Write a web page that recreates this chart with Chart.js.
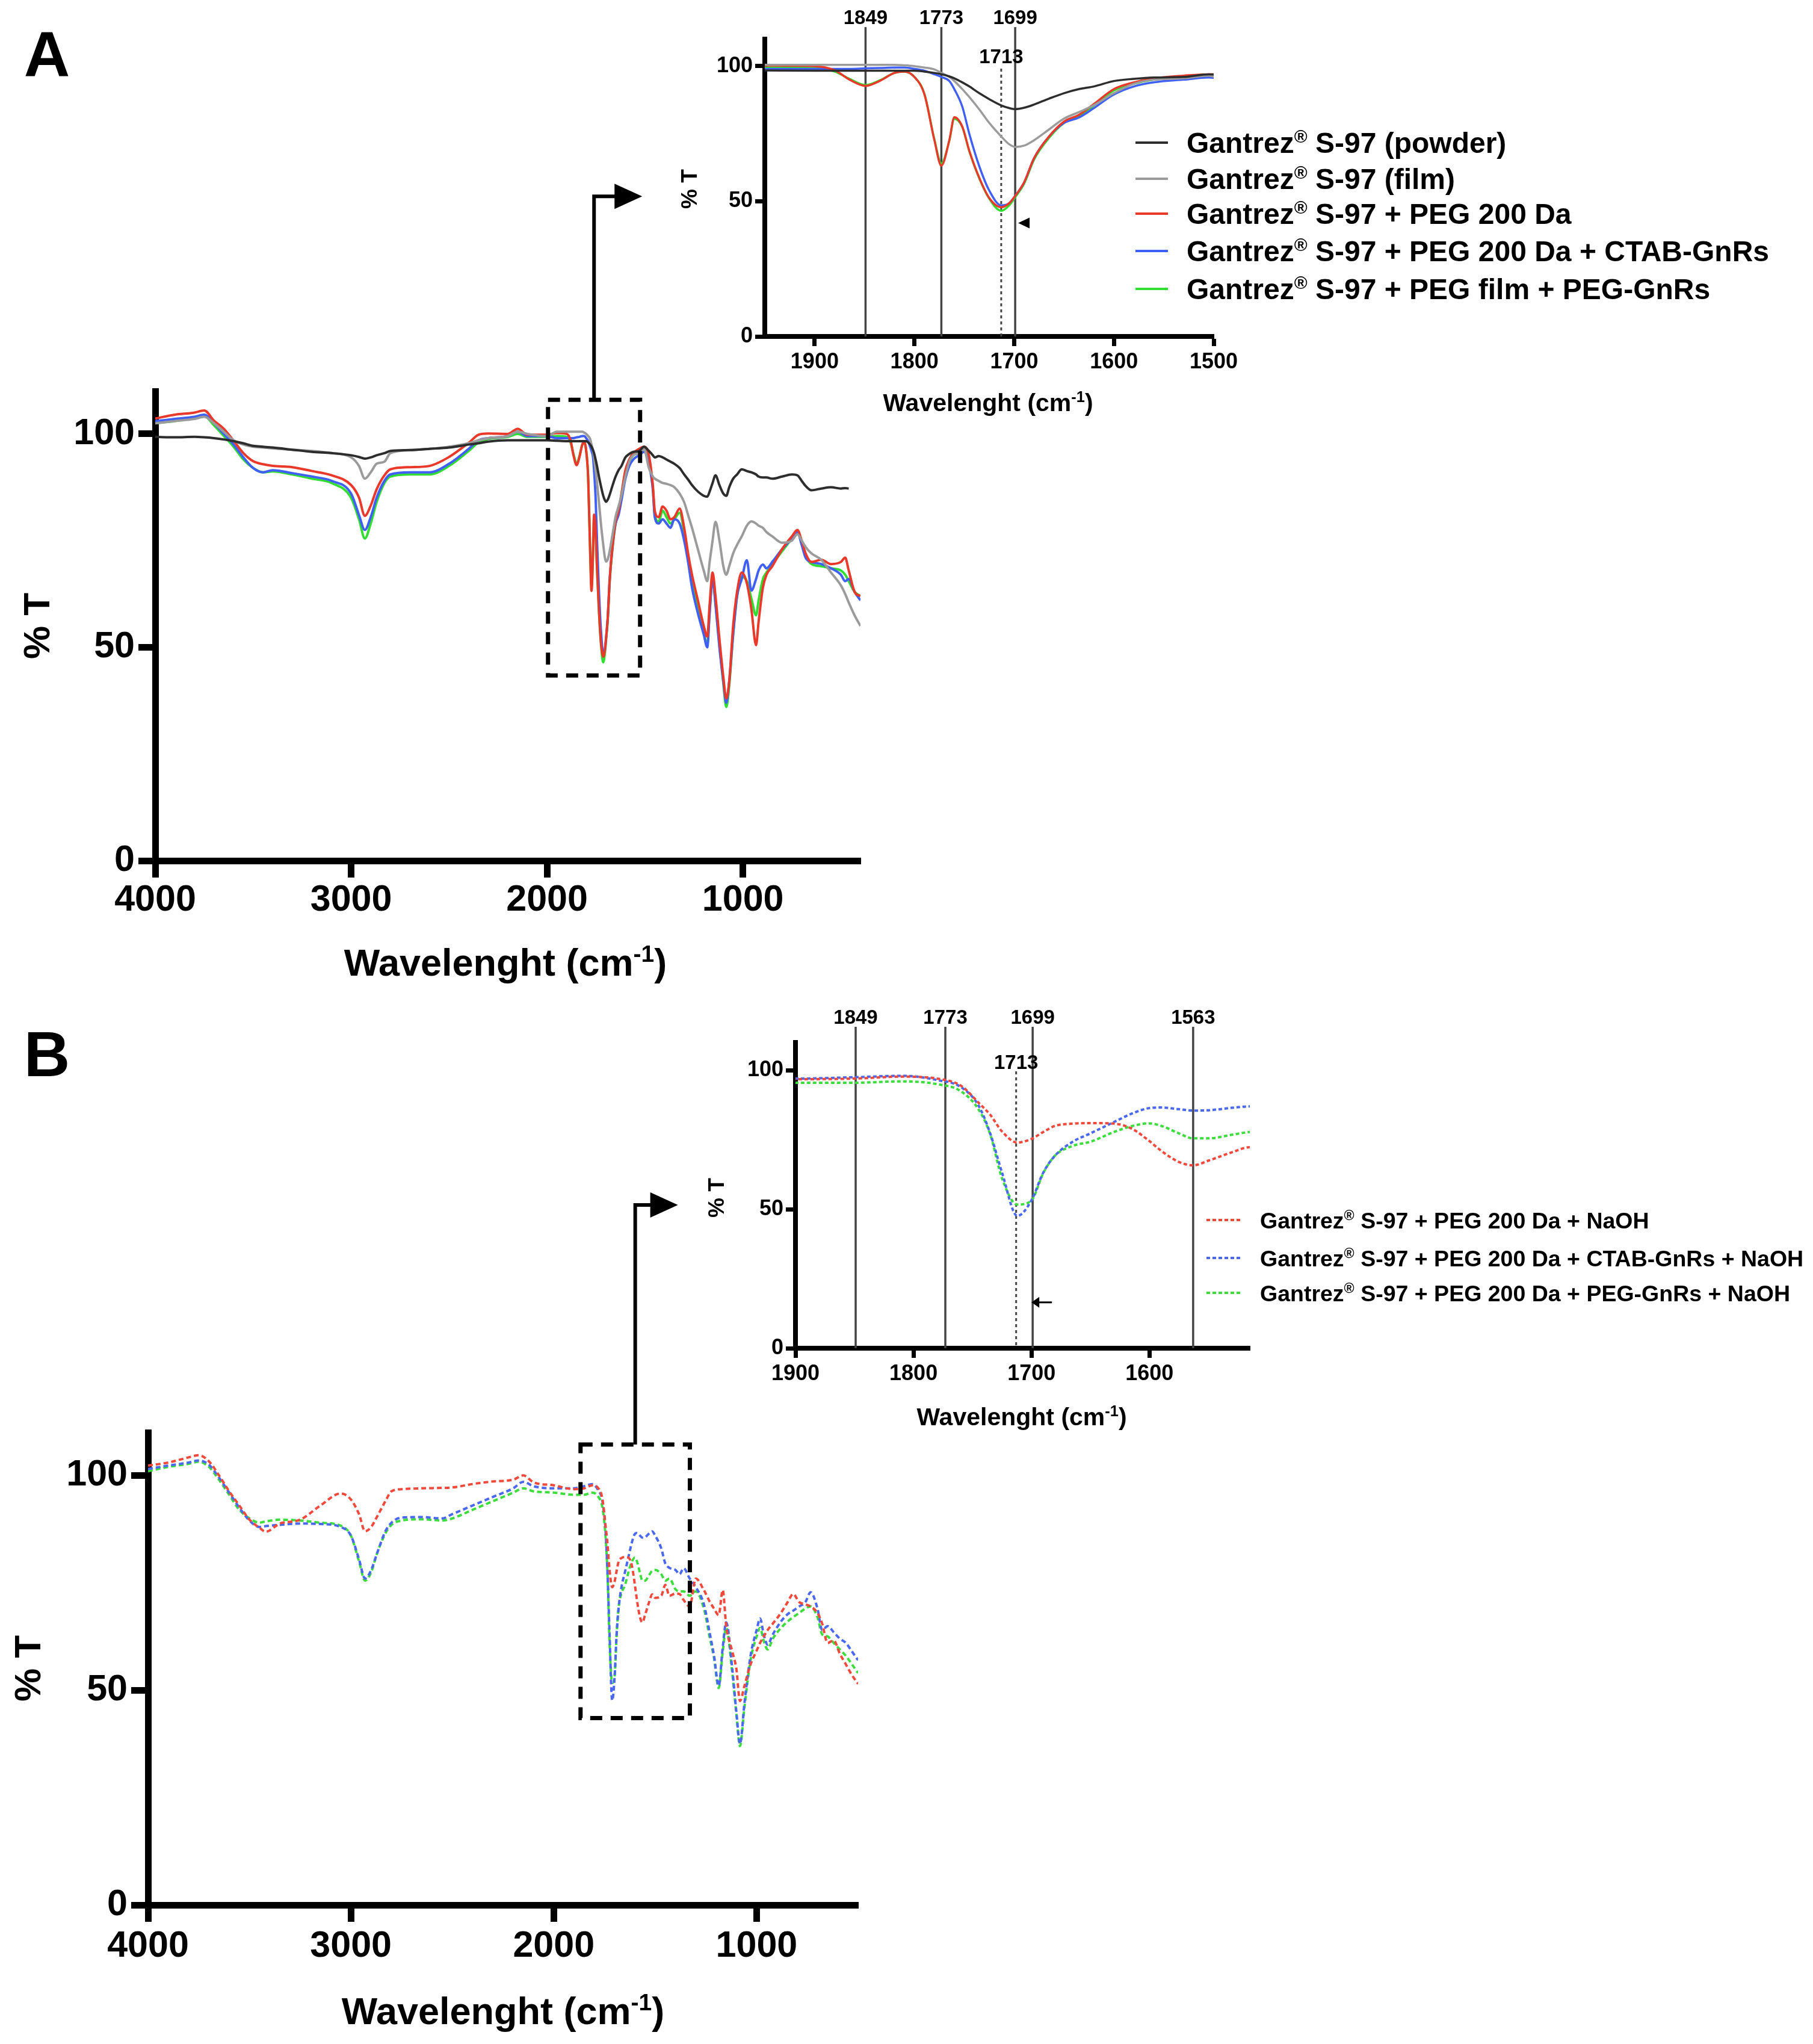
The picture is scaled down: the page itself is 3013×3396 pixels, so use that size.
<!DOCTYPE html>
<html><head><meta charset="utf-8">
<title>FTIR spectra</title>
<script src="https://cdn.jsdelivr.net/npm/chart.js@4.4.1/dist/chart.umd.min.js"></script>
<style>
html,body{margin:0;padding:0;background:#fff}
body{position:relative;width:3013px;height:3396px;overflow:hidden}
canvas{position:absolute;display:block}
</style></head>
<body>
<canvas id="mainA" width="1500" height="1750" style="left:0px;top:0px;width:1500px;height:1750px"></canvas>
<canvas id="insetA" width="1913" height="700" style="left:1100px;top:0px;width:1913px;height:700px"></canvas>
<canvas id="mainB" width="1500" height="1696" style="left:0px;top:1700px;width:1500px;height:1696px"></canvas>
<canvas id="insetB" width="1863" height="750" style="left:1150px;top:1650px;width:1863px;height:750px"></canvas>
<script>
// ---------- Panel A data ----------
const wavenumbersA = [4000,3900,3800,3750,3700,3650,3600,3550,3500,3450,
 3400,3300,3200,3100,3000,2960,2930,2900,2870,2830,
 2800,2700,2600,2500,2400,2350,2300,2200,2150,2100,
 2000,1950,1900,1880,1865,1849,1835,1820,1810,1800,
 1790,1780,1773,1765,1760,1752,1745,1735,1725,1713,
 1705,1699,1690,1680,1665,1650,1635,1620,1600,1580,
 1560,1530,1505,1480,1460,1450,1430,1410,1390,1370,
 1350,1323,1300,1280,1260,1230,1200,1182,1170,1155,
 1140,1120,1100,1085,1070,1050,1030,1006,980,957,
 933,920,898,880,850,800,750,722,700,680,
 650,600,550,500,478,460,430,400];
const powderA = [99.3,99.2,99.3,99.2,99,98.7,98.3,97.8,97.2,97,
 96.8,96.3,95.8,95.5,95,94.6,94.2,94.5,95,95.5,
 96,96.2,96.5,96.8,97.5,97.8,98.2,98.5,98.5,98.5,
 98.5,98.4,98.3,98.3,98.3,98.3,98.3,98.3,98.3,98.3,
 98,97.5,97,96.2,95.5,94,92.5,90,87.8,85.5,
 84.5,84.1,84.6,85.8,88,90,91.5,92.5,94.5,95.3,
 95.8,96,97,96,95,94.5,94.8,94.5,94,93.5,
 93,92,90.5,89.3,88,86.5,85.5,85.3,86.5,88.5,
 90.3,88,86,85.5,87.5,89.5,90.5,91.7,91.3,91,
 90.5,90,89.8,89.8,89.5,90,90.5,90.3,89,87.8,
 86.8,87.2,87.5,87.2,87.3,87.2,null,null];
const filmA = [102.5,103,103.5,104,102.5,100.5,98.5,97.5,97,96.8,
 96.6,96.3,96,95.5,94.5,92.5,89.5,91,93,93.5,
 95.5,96.2,96.5,97,97.8,98.5,99,99.5,100.5,100,
 99.5,100.5,100.5,100.5,100.5,100.5,100.5,100.5,100.3,100,
 99.5,98.8,97.5,96,94.5,91.5,88.6,84,79,74,
 71.1,70.1,70.6,72.6,76.6,80.6,83,85.6,90,93.5,
 95,95.5,96.5,92,90,89.5,89,88.5,88.3,88,
 87.5,86,84,81,78,73,68,65.5,70,75,
 79.4,75,69,67,69,72,74,76,78.5,79.5,
 79,78.5,78,77,76,74.5,75,76.5,75,73.5,
 72,70.5,67.5,64.5,62.5,60.5,57.5,55];
const peg200A = [103.6,104.5,105,105.5,103.1,101.2,98.4,95.5,93.6,92.9,
 92.5,92.2,91.3,90.3,88,85.1,80.8,83.2,87,90.3,
 91.7,92.2,92.5,94.6,97.9,99.8,100.1,100,101.2,99.8,
 99.8,100.2,100,98.5,95,92.7,94.5,97.5,98,96,
 89.6,72.6,63.2,72.6,81.1,77.6,68.7,58.7,51.2,47.8,
 49.3,52,57,66,74,79.5,82,86,91.5,94,
 95.5,96.5,97,95,88,82,80.5,83,82,80,
 80.5,82.5,78,72,67,61,55,52.5,60,67.5,
 62,52,43,38,42,55,63,67.5,65,59,
 50.5,56,64,67,69,73,76,77.5,75,72,
 70,70.5,69.5,70,71,68,63,62];
const ctabGnrA = [103,103.5,104,104.5,102.5,100,97.5,94.5,92,91,
 91.5,90.8,90,89,86,81,77.5,80.5,85,89,
 90.5,91,91,93,96.5,98.5,99,99.5,100.5,99.5,
 99.5,99,99,99,99,99.2,99.3,99.5,99.5,99,
 98.3,97,96,94.5,91.5,85,75,63,54,48.5,
 49.3,52,57,66,74,79,81,84.5,89.5,92.5,
 94,95,95.8,93,87,80.5,79,80,79,78,
 80,79,75,70,64,58,53,50,58,66,
 60,50,42,37,42,53,62,66,70.4,63.3,
 66,68,69.4,68.5,70,73,75.5,77,74,71,
 70,69.5,68.5,67,65.5,66,63,61];
const pegGnrA = [102.5,103,103.8,104.2,102,99.5,97,94,92,91,
 91.2,90.5,89.5,88.5,85,80,75.5,79,84,88.5,
 90,90.5,90.5,92.5,96,98,98.8,99.3,100,99.3,
 99.3,99.5,99.3,98,95.3,93,94.7,97.5,98,96,
 89.8,73,64,72.5,80.5,77.5,68.5,58.5,51,46.5,
 48.5,51.5,56.5,65.5,73.5,79,81.5,85.5,91,93.5,
 95,96,96.5,94,87.5,81,79.5,82,80.5,79,
 80,81.5,77,71,65,59,53.5,50.5,58.5,66,
 60.5,50.5,41.5,36,41,53,62,66.5,65.5,61.5,
 57.5,61,66,67.5,69.5,72.5,75.5,77,74.5,71.5,
 69.5,69,68.5,68,67,65.5,63,62];
const labelsA = ['Gantrez® S-97 (powder)','Gantrez® S-97 (film)','Gantrez® S-97 + PEG 200 Da',
 'Gantrez® S-97 + PEG 200 Da + CTAB-GnRs','Gantrez® S-97 + PEG film + PEG-GnRs'];

// ---------- Panel B data ----------
const wavenumbersB = [4000,3900,3800,3750,3700,3650,3600,3550,3500,3450,
 3420,3350,3250,3150,3050,3000,2960,2930,2900,2870,
 2830,2800,2750,2650,2550,2500,2400,2300,2200,2150,
 2100,2000,1900,1850,1810,1780,1760,1745,1735,1725,
 1712,1700,1690,1680,1665,1650,1630,1615,1600,1590,
 1575,1563,1550,1530,1515,1500,1470,1450,1430,1400,
 1380,1360,1330,1300,1260,1230,1210,1187,1167,1150,
 1120,1100,1082,1060,1030,1000,983,965,946,920,
 880,847,820,790,760,734,700,677,650,620,
 590,560,530,500];
const naohB = [102.3,103,104.2,104.7,103.3,100,96.3,93,89.7,87.8,
 86.9,88.8,89.7,93,95.8,94.4,91,87,88,90.5,
 94,96.3,96.8,97,97.1,97.2,98,98.6,99,100,
 98.4,97.7,96.8,97,97.7,97,94.5,88.4,84,78,
 74,75.3,77.8,80,80.8,81,80.8,79,74.5,71,
 67,65.8,67.5,70.5,72.3,71.5,72,74.5,72,72.5,
 72.4,71,69.5,76,73.3,70.5,69,67.5,73.3,65,
 59,55,47.5,51,56,59.2,61,62.5,64,65.5,
 68,70.5,72.4,70.5,70,69.5,68,65.5,61,61.6,
 58.5,56,53.5,51.5];
const ctabNaohB = [101.5,102.3,103,103.5,102.5,99.5,96,92.5,89.5,88,
 88.2,88.5,88.8,88.7,88,86,80.5,76,78,82,
 87,89,90.2,90.3,90,91,93,95,97,98.5,
 97.5,97,97,97.5,98,96.5,94,87.4,77.3,63.2,
 47.6,53.2,63.2,69.3,74.3,77.3,81.4,84.4,86.4,86.6,
 86,85.5,85.6,86.5,87,86,83,79.5,78.5,78,
 77,78.4,76,74,70,63,58,51,60,65.8,
 55,45,37.5,47,58,64,66.7,63,60.6,63,
 66,67.7,68.5,69.5,70.5,72.8,69,64,64.9,63.5,
 62,61,59,57];
const pegNaohB = [101,102,102.7,103.2,102,99,95.5,92,90,89,
 89.3,89.7,89.5,89,88.3,86,80,75.5,77.5,82,
 86.5,88.5,89.5,89.8,89.5,90,92,94,96,97,
 96.3,96,95.5,95.5,96,95,92.5,86,77,61.2,
 51.7,53.2,63,69.3,72.8,74.3,77.8,79.9,80.9,80,
 77.3,75.5,75.5,76.8,77.8,78,77,75.5,76,73.5,
 73,73,72,73,69,62,57.5,50.5,59,64.5,
 54,44.5,37,46,57,62.5,64.5,61.5,59.5,62,
 64.5,66,67,68,69,69.5,67,63,62.5,61,
 59.5,58,56,54];
const labelsB = ['Gantrez® S-97 + PEG 200 Da + NaOH','Gantrez® S-97 + PEG 200 Da + CTAB-GnRs + NaOH',
 'Gantrez® S-97 + PEG 200 Da + PEG-GnRs + NaOH'];

// ---------- ticks & reference lines ----------
const yTicks = [0, 50, 100];
const xTicksMain = [4000, 3000, 2000, 1000];
const xTicksInsetA = [1900, 1800, 1700, 1600, 1500];
const xTicksInsetB = [1900, 1800, 1700, 1600];
const peakLinesA = [1849, 1773, 1699];
const peakLinesB = [1849, 1773, 1699, 1563];
const dashedPeak = 1713;

const colorsA = ['#2d2d2d','#9b9b9b','#e8392b','#3f5ff5','#33dd33'];
const colorsB = ['#f04a3c','#4a68f0','#3fdc3f'];

const FAMILY = "'Liberation Sans',Arial,Helvetica,sans-serif";
function fontStr(size){ return 'bold '+size+'px '+FAMILY; }

function toPoints(xs, ys){ return xs.map((x,i)=>({x:x, y:ys[i]})); }
function makeDatasets(xs, list, labels, colors, width, dash){
  return list.map((ys,i)=>({label:labels[i], data:toPoints(xs, ys), borderColor:colors[i], backgroundColor:colors[i],
    borderWidth:width, borderDash:dash, pointRadius:0, pointHoverRadius:0, fill:false,
    cubicInterpolationMode:'monotone', spanGaps:false}));
}
function richParts(str){
  const parts=[]; const segs=str.split('®');
  segs.forEach((s,i)=>{ if(s) parts.push({t:s}); if(i<segs.length-1) parts.push({t:'®',sup:true}); });
  return parts;
}
const TITLE_PARTS = [{t:'Wavelenght (cm'},{t:'-1',sup:true},{t:')'}];
function drawRich(ctx, parts, x, baseline, size, align){
  const sup=size*0.62; let total=0;
  const w=parts.map(p=>{ctx.font=fontStr(p.sup?sup:size); const m=ctx.measureText(p.t).width; total+=m; return m;});
  let cx = align==='center'? x-total/2 : (align==='right'? x-total : x);
  ctx.textAlign='left'; ctx.textBaseline='alphabetic';
  parts.forEach((p,i)=>{
    ctx.font=fontStr(p.sup?sup:size);
    ctx.fillText(p.t, cx, p.sup? baseline-size*0.36 : baseline); cx+=w[i];
  });
}
function drawText(ctx, text, x, y, size, rot){
  ctx.save(); ctx.translate(x,y); if(rot) ctx.rotate(-Math.PI/2);
  ctx.font=fontStr(size); ctx.textAlign='center'; ctx.textBaseline='middle';
  ctx.fillText(text,0,0); ctx.restore();
}
function axis(cfg, isX){
  return {
    type:'linear', position:isX?'bottom':'left',
    min:isX?cfg.xmin:0, max:isX?cfg.xmax:110, reverse:isX,
    afterBuildTicks:s=>{ s.ticks=(isX?cfg.xTicks:yTicks).map(v=>({value:v})); },
    afterFit:s=>{ if(isX) s.height=cfg.xSize; else s.width=cfg.ySize; },
    grid:{display:true, drawOnChartArea:false, drawTicks:true, tickLength:cfg.tickLen, tickWidth:cfg.tickW, tickColor:'#000'},
    border:{display:true, color:'#000', width:cfg.axisW},
    ticks:{color:'#000', font:{family:FAMILY, size:cfg.tickFont, weight:'bold'},
      padding:isX?cfg.xPad:cfg.yPad, autoSkip:false, maxRotation:0, minRotation:0, callback:v=>String(v)}
  };
}
function buildChart(id, cfg, plugin){
  return new Chart(document.getElementById(id).getContext('2d'), {
    type:'line',
    data:{datasets:cfg.datasets},
    options:{responsive:false, animation:false, devicePixelRatio:1, events:[],
      layout:{padding:cfg.padding},
      plugins:{legend:{display:false}, tooltip:{enabled:false}, title:{display:false}},
      scales:{x:axis(cfg,true), y:axis(cfg,false)}},
    plugins:[plugin]
  });
}
function mainDecor(o){
  return {id:'decor', afterDraw(chart){
    const ctx=chart.ctx, xs=chart.scales.x, ys=chart.scales.y;
    ctx.save(); ctx.fillStyle='#000'; ctx.strokeStyle='#000';
    ctx.font=fontStr(o.letterSize); ctx.textAlign='center'; ctx.textBaseline='middle';
    ctx.fillText(o.letter, o.letterX, o.letterY);
    drawText(ctx, '% T', o.yTitleX, o.yTitleY, o.yTitleSize, true);
    drawRich(ctx, TITLE_PARTS, o.xTitleX, o.xTitleBase, o.titleSize, 'center');
    const x0=xs.getPixelForValue(o.box[0]), x1=xs.getPixelForValue(o.box[1]);
    const yTop=ys.getPixelForValue(o.box[3]), yBot=ys.getPixelForValue(o.box[2]);
    ctx.lineWidth=7; ctx.setLineDash([20,14]);
    ctx.strokeRect(x0, yTop, x1-x0, yBot-yTop);
    ctx.setLineDash([]);
    const ax=(x0+x1)/2, cy=yTop-o.rise;
    ctx.lineWidth=6; ctx.beginPath(); ctx.moveTo(ax,yTop); ctx.lineTo(ax,cy); ctx.lineTo(ax+o.run-o.head+2,cy); ctx.stroke();
    ctx.beginPath(); ctx.moveTo(ax+o.run,cy); ctx.lineTo(ax+o.run-o.head,cy-o.headH); ctx.lineTo(ax+o.run-o.head,cy+o.headH); ctx.closePath(); ctx.fill();
    ctx.restore();
  }};
}
function insetDecor(o){
  return {id:'decor',
    beforeDatasetsDraw(chart){
      const ctx=chart.ctx, xs=chart.scales.x, bottom=chart.chartArea.bottom;
      ctx.save(); ctx.strokeStyle='#444'; ctx.lineWidth=3.5;
      o.lines.forEach(v=>{const x=xs.getPixelForValue(v); ctx.beginPath(); ctx.moveTo(x,o.lineTop); ctx.lineTo(x,bottom); ctx.stroke();});
      const xd=xs.getPixelForValue(dashedPeak);
      ctx.lineWidth=3; ctx.setLineDash([5,5]); ctx.beginPath(); ctx.moveTo(xd,o.dashTop); ctx.lineTo(xd,bottom); ctx.stroke();
      ctx.restore();
    },
    afterDraw(chart){
      const ctx=chart.ctx, xs=chart.scales.x, ys=chart.scales.y;
      ctx.save(); ctx.fillStyle='#000'; ctx.strokeStyle='#000';
      o.lines.forEach(v=>drawText(ctx, String(v), xs.getPixelForValue(v), o.labelY, o.peakFont, false));
      drawText(ctx, String(dashedPeak), xs.getPixelForValue(dashedPeak), o.dashLabelY, o.peakFont, false);
      const tx=xs.getPixelForValue(o.arrow[0]), ty=ys.getPixelForValue(o.arrow[1]);
      if(o.arrowType==='tri'){
        ctx.beginPath(); ctx.moveTo(tx,ty); ctx.lineTo(tx+19,ty-9); ctx.lineTo(tx+19,ty+9); ctx.closePath(); ctx.fill();
      } else {
        ctx.lineWidth=3; ctx.beginPath(); ctx.moveTo(tx+6,ty); ctx.lineTo(tx+34,ty); ctx.stroke();
        ctx.beginPath(); ctx.moveTo(tx,ty); ctx.lineTo(tx+13,ty-9); ctx.lineTo(tx+13,ty+9); ctx.closePath(); ctx.fill();
      }
      drawText(ctx, '% T', o.yTitleX, o.yTitleY, o.yTitleSize, true);
      drawRich(ctx, TITLE_PARTS, o.xTitleX, o.xTitleBase, o.xTitleSize, 'center');
      chart.data.datasets.forEach((d,i)=>{
        const y=o.legRows[i];
        ctx.save(); ctx.strokeStyle=d.borderColor; ctx.lineWidth=o.legLW; ctx.setLineDash(o.legDash);
        ctx.beginPath(); ctx.moveTo(o.legX0,y); ctx.lineTo(o.legX1,y); ctx.stroke(); ctx.restore();
        ctx.fillStyle='#000';
        drawRich(ctx, richParts(d.label), o.legTextX, y+o.legFont*0.36, o.legFont, 'left');
      });
      ctx.restore();
    }};
}

// ---------- Panel A ----------
const seriesA = [powderA, filmA, peg200A, ctabGnrA, pegGnrA];
buildChart('mainA', {
  datasets: makeDatasets(wavenumbersA, seriesA, labelsA, colorsA, 4, []),
  xmin:400, xmax:4000, xTicks:xTicksMain, padding:{left:58, top:650, right:70, bottom:120},
  ySize:200, xSize:200, tickFont:61, tickLen:28, tickW:11, axisW:11, xPad:2, yPad:6
}, mainDecor({letter:'A', letterX:78, letterY:98, letterSize:106, yTitleX:65, yTitleY:1040, yTitleSize:62, titleSize:63,
  xTitleX:840, xTitleBase:1621, box:[1995,1525,43.4,108], rise:338, run:80, head:46, headH:21}));

buildChart('insetA', {
  datasets: makeDatasets(wavenumbersA, seriesA, labelsA, colorsA, 3.5, []),
  xmin:1500, xmax:1950, xTicks:xTicksInsetA, padding:{left:51, top:65, right:996, bottom:41},
  ySize:120, xSize:100, tickFont:36, tickLen:16, tickW:7, axisW:8, xPad:5, yPad:4
}, insetDecor({lines:peakLinesA, lineTop:45, dashTop:114, labelY:31, dashLabelY:96, peakFont:33,
  arrow:[1696,42], arrowType:'tri', yTitleX:48, yTitleY:314, yTitleSize:37, xTitleX:542, xTitleBase:683, xTitleSize:41,
  legRows:[237,297,355,417,480], legX0:787, legX1:841, legTextX:872, legFont:48, legLW:4, legDash:[]}));

// ---------- Panel B ----------
const seriesB = [naohB, ctabNaohB, pegNaohB];
buildChart('mainB', {
  datasets: makeDatasets(wavenumbersB, seriesB, labelsB, colorsB, 4, [8,5]),
  xmin:500, xmax:4000, xTicks:xTicksMain, padding:{left:46, top:680, right:74, bottom:31},
  ySize:200, xSize:200, tickFont:61, tickLen:28, tickW:11, axisW:11, xPad:5, yPad:6
}, mainDecor({letter:'B', letterX:78, letterY:59, letterSize:106, yTitleX:50, yTitleY:1072, yTitleSize:62, titleSize:63,
  xTitleX:836, xTitleBase:1663, box:[1868,1329,43.5,107.2], rise:398, run:71, head:46, headH:21}));

buildChart('insetB', {
  datasets: makeDatasets(wavenumbersB, seriesB, labelsB, colorsB, 4, [6,4]),
  xmin:1515, xmax:1900, xTicks:xTicksInsetB, padding:{left:52, top:82, right:936, bottom:60},
  ySize:120, xSize:100, tickFont:36, tickLen:16, tickW:7, axisW:8, xPad:5, yPad:4
}, insetDecor({lines:peakLinesB, lineTop:56, dashTop:130, labelY:42, dashLabelY:117, peakFont:33,
  arrow:[1700,16.5], arrowType:'line', yTitleX:43, yTitleY:340, yTitleSize:37, xTitleX:548, xTitleBase:718, xTitleSize:41,
  legRows:[377,440,498], legX0:855, legX1:915, legTextX:944, legFont:37.5, legLW:4, legDash:[6,4]}));
</script>
</body></html>
